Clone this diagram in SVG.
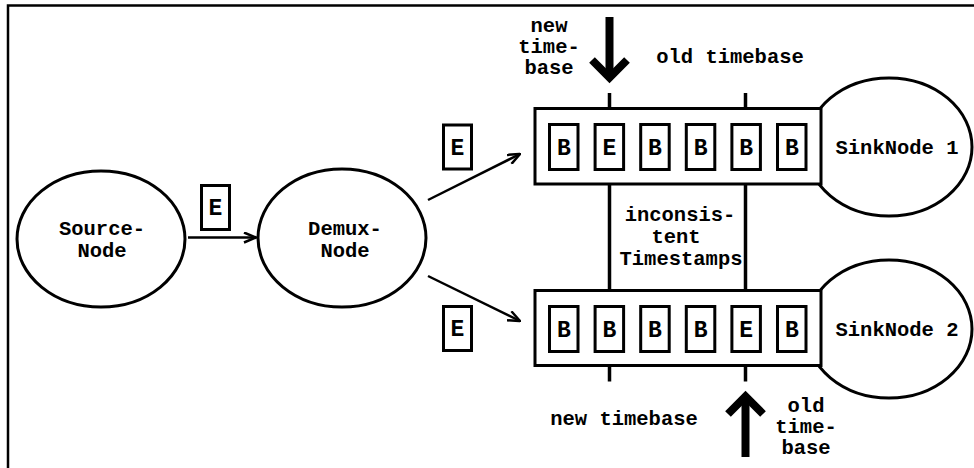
<svg xmlns="http://www.w3.org/2000/svg" width="974" height="468" viewBox="0 0 974 468">
  <defs>
    <style>
      .frame { fill: none; stroke: #000; stroke-width: 2.5; }
      .node { fill: #fff; stroke: #000; stroke-width: 3; }
      .queue { fill: #fff; stroke: #000; stroke-width: 3; }
      .slot { fill: #fff; stroke: #000; stroke-width: 3; }
      .tick { stroke: #000; stroke-width: 3.5; fill: none; }
      .edge { stroke: #000; stroke-width: 2.5; fill: none; }
      .big { stroke: #000; stroke-width: 8; fill: none; stroke-linejoin: miter; stroke-miterlimit: 10; }
      text { font-family: "Liberation Mono", "DejaVu Sans Mono", monospace; font-weight: bold; fill: #000; text-anchor: middle; }
      .lbl { font-size: 20.5px; }
      .ev { font-size: 23px; }
    </style>
    <marker id="open" viewBox="0 0 14 12" refX="13" refY="6" markerWidth="14" markerHeight="12" markerUnits="userSpaceOnUse" orient="auto">
      <path d="M1,1 L13,6 L1,11" fill="none" stroke="#000" stroke-width="2.5"/>
    </marker>
  </defs>

  <!-- outer frame (only top and left edges fall inside the canvas) -->
  <path class="frame" d="M8,470 V5.5 H980"/>

  <!-- connectors -->
  <g id="connectors">
    <line class="edge" x1="188" y1="237.5" x2="256" y2="237.5" marker-end="url(#open)"/>
    <line class="edge" x1="428" y1="200" x2="520" y2="154" marker-end="url(#open)"/>
    <line class="edge" x1="428" y1="276" x2="520" y2="321" marker-end="url(#open)"/>
  </g>

  <!-- events in transit -->
  <g id="event-source-demux">
    <rect class="slot" x="201.5" y="185.5" width="28" height="44"/>
    <text class="ev" x="215.5" y="215">E</text>
  </g>
  <g id="event-to-sink1">
    <rect class="slot" x="443.5" y="125" width="28" height="44"/>
    <text class="ev" x="457.5" y="154.5">E</text>
  </g>
  <g id="event-to-sink2">
    <rect class="slot" x="443.5" y="306.5" width="28" height="44"/>
    <text class="ev" x="457.5" y="336">E</text>
  </g>

  <!-- source and demux nodes -->
  <g id="source-node">
    <ellipse class="node" cx="101" cy="239" rx="84" ry="68"/>
    <text class="lbl" x="102" y="235">Source-</text>
    <text class="lbl" x="102" y="257">Node</text>
  </g>
  <g id="demux-node">
    <ellipse class="node" cx="342" cy="238" rx="84" ry="69"/>
    <text class="lbl" x="345" y="235">Demux-</text>
    <text class="lbl" x="345" y="257">Node</text>
  </g>

  <!-- timebase markers between the two queues -->
  <g id="timebase-lines">
    <line class="tick" x1="609.5" y1="93" x2="609.5" y2="109"/>
    <line class="tick" x1="745.5" y1="93" x2="745.5" y2="109"/>
    <line class="tick" x1="609.5" y1="184" x2="609.5" y2="291"/>
    <line class="tick" x1="745.5" y1="184" x2="745.5" y2="291"/>
    <line class="tick" x1="609.5" y1="365" x2="609.5" y2="381.5"/>
    <line class="tick" x1="745.5" y1="365" x2="745.5" y2="381.5"/>
    <text class="lbl" x="680" y="221">inconsis-</text>
    <text class="lbl" x="676" y="243">tent</text>
    <text class="lbl" x="681" y="265">Timestamps</text>
  </g>

  <!-- sink node 1 with its input queue -->
  <g id="sink-node-1">
    <ellipse class="node" cx="889" cy="147" rx="83" ry="69"/>
    <rect class="queue" x="535" y="108.5" width="286" height="75.5"/>
    <rect class="slot" x="549.5" y="124.5" width="28.5" height="45"/>
    <rect class="slot" x="595.1" y="124.5" width="28.5" height="45"/>
    <rect class="slot" x="640.7" y="124.5" width="28.5" height="45"/>
    <rect class="slot" x="686.3" y="124.5" width="28.5" height="45"/>
    <rect class="slot" x="731.9" y="124.5" width="28.5" height="45"/>
    <rect class="slot" x="777.5" y="124.5" width="28.5" height="45"/>
    <text class="ev" x="563.8" y="155">B</text>
    <text class="ev" x="609.4" y="155">E</text>
    <text class="ev" x="655" y="155">B</text>
    <text class="ev" x="700.6" y="155">B</text>
    <text class="ev" x="746.2" y="155">B</text>
    <text class="ev" x="791.8" y="155">B</text>
    <text class="lbl" x="897" y="154">SinkNode 1</text>
  </g>

  <!-- sink node 2 with its input queue -->
  <g id="sink-node-2">
    <ellipse class="node" cx="889" cy="329" rx="83" ry="69"/>
    <rect class="queue" x="535" y="290.5" width="286" height="75"/>
    <rect class="slot" x="549.5" y="306.5" width="28.5" height="45"/>
    <rect class="slot" x="595.1" y="306.5" width="28.5" height="45"/>
    <rect class="slot" x="640.7" y="306.5" width="28.5" height="45"/>
    <rect class="slot" x="686.3" y="306.5" width="28.5" height="45"/>
    <rect class="slot" x="731.9" y="306.5" width="28.5" height="45"/>
    <rect class="slot" x="777.5" y="306.5" width="28.5" height="45"/>
    <text class="ev" x="563.8" y="337">B</text>
    <text class="ev" x="609.4" y="337">B</text>
    <text class="ev" x="655" y="337">B</text>
    <text class="ev" x="700.6" y="337">B</text>
    <text class="ev" x="746.2" y="337">E</text>
    <text class="ev" x="791.8" y="337">B</text>
    <text class="lbl" x="897" y="336">SinkNode 2</text>
  </g>

  <!-- timebase annotations with heavy arrows -->
  <g id="timebase-top">
    <line class="big" x1="609.5" y1="17" x2="609.5" y2="76"/>
    <polyline class="big" points="592,60 609.5,77.5 627,60"/>
    <text class="lbl" x="549" y="32">new</text>
    <text class="lbl" x="549" y="53">time-</text>
    <text class="lbl" x="549" y="74">base</text>
    <text class="lbl" x="730" y="63">old timebase</text>
  </g>
  <g id="timebase-bottom">
    <line class="big" x1="745.5" y1="457" x2="745.5" y2="400"/>
    <polyline class="big" points="728,414 745.5,396.5 763,414"/>
    <text class="lbl" x="624" y="425">new timebase</text>
    <text class="lbl" x="806" y="412">old</text>
    <text class="lbl" x="806" y="433">time-</text>
    <text class="lbl" x="806" y="454">base</text>
  </g>
</svg>
